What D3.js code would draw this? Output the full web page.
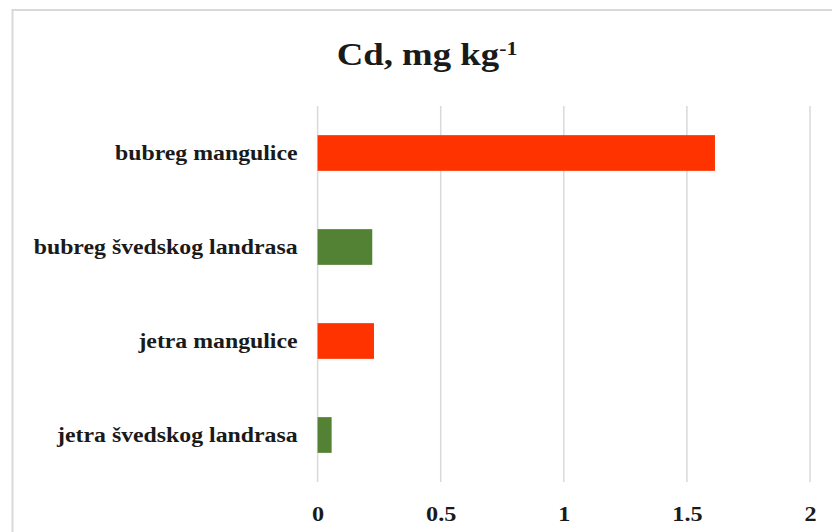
<!DOCTYPE html>
<html>
<head>
<meta charset="utf-8">
<script src="https://cdn.jsdelivr.net/npm/d3@7/dist/d3.min.js"></script>
<style>
  html, body { margin: 0; padding: 0; background: #fff; }
  svg { display: block; }
</style>
</head>
<body>
<svg id="chart" width="832" height="532"></svg>
<script>
const categories = ["bubreg mangulice", "bubreg švedskog landrasa", "jetra mangulice", "jetra švedskog landrasa"];
const values = [1.614, 0.222, 0.229, 0.057];
const barColors = ["#FF3300", "#548235", "#FF3300", "#548235"];
const xTicks = [0, 0.5, 1, 1.5, 2];
const titleMain = "Cd, mg kg";
const titleSup = "-1";

const svg = d3.select("#chart");
const W = 832, H = 532;
const plot = { left: 317.6, right: 810, top: 106, bottom: 482 };
const serif = "'Liberation Serif', 'Times New Roman', Times, serif";

// outer border
svg.append("rect")
  .attr("x", 12.5).attr("y", 10)
  .attr("width", W + 20).attr("height", H + 20)
  .attr("fill", "#fff").attr("stroke", "#d9d9d9").attr("stroke-width", 2);

const x = d3.scaleLinear().domain([0, 2]).range([plot.left, plot.right]);
const y = d3.scaleBand().domain(categories).range([plot.top, plot.bottom])
  .paddingInner(0.62).paddingOuter(0.31);

// gridlines
svg.append("g").selectAll("line").data(xTicks).join("line")
  .attr("x1", d => x(d)).attr("x2", d => x(d))
  .attr("y1", plot.top).attr("y2", plot.bottom)
  .attr("stroke", "#d9d9d9").attr("stroke-width", 1.5);

// bars
svg.append("g").selectAll("rect").data(values).join("rect")
  .attr("x", x(0))
  .attr("y", (d, i) => y(categories[i]))
  .attr("width", d => x(d) - x(0))
  .attr("height", y.bandwidth())
  .attr("fill", (d, i) => barColors[i]);

// x axis
const xAxis = svg.append("g")
  .attr("transform", `translate(0,${plot.bottom})`)
  .call(d3.axisBottom(x).tickValues(xTicks).tickSize(0).tickPadding(0).tickFormat(d3.format("")));
xAxis.select(".domain").remove();
xAxis.selectAll("text")
  .attr("y", 39).attr("dy", null)
  .attr("transform", "scale(1.1,1)")
  .style("font-family", serif).style("font-weight", "bold").style("font-size", "22px")
  .attr("fill", "#1a1a1a");

// y axis
const sx = 1.19;
const yAxis = svg.append("g")
  .attr("transform", `translate(${plot.left},0)`)
  .call(d3.axisLeft(y).tickSize(0).tickPadding(0));
yAxis.select(".domain").remove();
yAxis.selectAll("text")
  .attr("x", -20 / sx).attr("dy", null).attr("y", 7)
  .attr("transform", `scale(${sx},1)`)
  .attr("text-anchor", "end")
  .style("font-family", serif).style("font-weight", "bold").style("font-size", "20px")
  .attr("fill", "#1a1a1a");

// title
const tsx = 1.15;
const title = svg.append("text")
  .attr("transform", `translate(427,65) scale(${tsx},1)`)
  .attr("text-anchor", "middle")
  .style("font-family", serif).style("font-weight", "bold")
  .attr("fill", "#1a1a1a");
title.append("tspan").style("font-size", "32px").text(titleMain);
title.append("tspan").style("font-size", "19px").attr("dy", -10).text(titleSup);
</script>
</body>
</html>
